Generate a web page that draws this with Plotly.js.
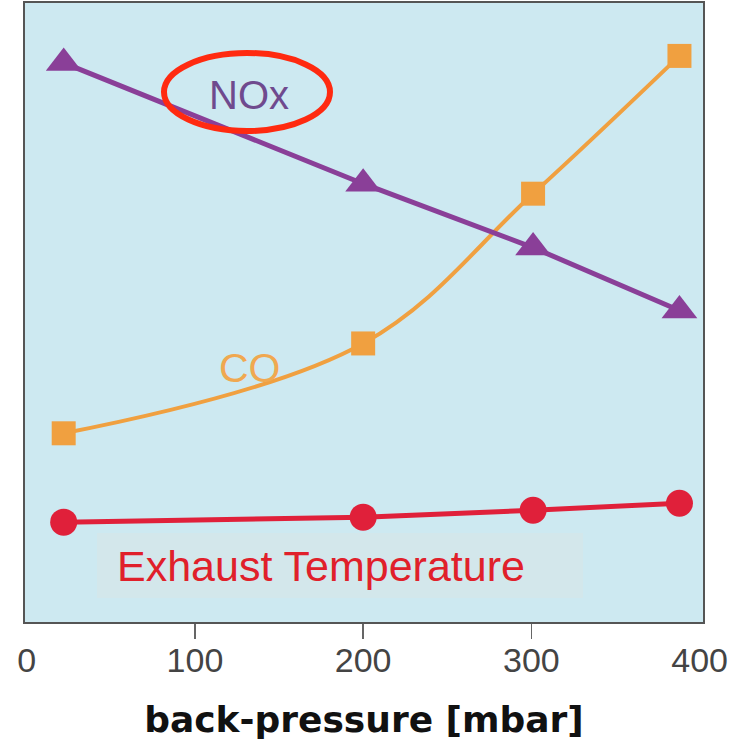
<!DOCTYPE html>
<html><head><meta charset="utf-8">
<script src="https://cdn.plot.ly/plotly-3.0.1.min.js"></script>
<style>html,body{margin:0;padding:0;background:#fff}#chart{width:740px;height:740px}</style>
</head><body><div id="chart"></div>
<script>
const pressure = [22, 200, 301, 388];
const noxValues = [560, 439, 375, 312];
const coValues = [189, 279, 429, 567];
const exhaustValues = [100, 105, 112, 119];
const xTicks = [0, 100, 200, 300, 400];
const xTickLabels = ['0', '100', '200', '300', '400'];
const xTickMarks = [100, 200, 300];

const traces = [
  {x: pressure, y: exhaustValues, mode: 'lines+markers', name: 'Exhaust Temperature',
   line: {color: '#e0203a', width: 5}, marker: {symbol: 'circle', size: 27, color: '#e0203a'}},
  {x: pressure, y: coValues, mode: 'lines+markers', name: 'CO',
   line: {color: '#f0a040', width: 4, shape: 'spline', smoothing: 1.05}, marker: {symbol: 'square', size: 24, color: '#f0a040'}},
  {x: pressure, y: noxValues, mode: 'lines+markers', name: 'NOx',
   line: {color: '#8a3f98', width: 5}, marker: {symbol: 'triangle-up', size: 31, color: '#8a3f98'}}
];

const px = v => (v - 25) / 678;
const py = v => (622 - v) / 619;
const lab = {family: 'Liberation Sans, Arial, sans-serif'};

const layout = {
  width: 740, height: 740,
  margin: {l: 25, r: 37, t: 3, b: 118},
  paper_bgcolor: '#ffffff', plot_bgcolor: '#cde9f1',
  showlegend: false,
  xaxis: {range: [-1, 402], tickvals: xTicks, ticktext: xTickLabels, ticks: '', ticklabelstandoff: 7,
          minor: {tickvals: xTickMarks, ticks: 'outside', ticklen: 15, tickwidth: 1.5, tickcolor: '#666', showgrid: false},
          showgrid: false, zeroline: false, showline: true, mirror: true, linecolor: '#555', linewidth: 2,
          tickfont: {family: lab.family, size: 34, color: '#444'},
          title: {text: 'back-pressure [mbar]', font: {family: 'DejaVu Sans, sans-serif', size: 36, color: '#111', weight: 'bold'}, standoff: 29}},
  yaxis: {range: [0, 620], showticklabels: false, ticks: '', showgrid: false, zeroline: false, showline: true, mirror: true, linecolor: '#555', linewidth: 2},
  shapes: [
    {type: 'rect', xref: 'paper', yref: 'paper', x0: px(97), x1: px(583), y0: py(598), y1: py(533),
     fillcolor: '#d3e7eb', line: {width: 0}, layer: 'below'},
    {type: 'circle', xref: 'paper', yref: 'paper', x0: px(164), x1: px(330), y0: py(131), y1: py(53),
     line: {color: '#ff2a10', width: 6}}
  ],
  annotations: [
    {xref: 'paper', yref: 'paper', x: px(249), y: py(95), xanchor: 'center', yanchor: 'middle', text: 'NOx', showarrow: false,
     font: {family: lab.family, size: 40, color: '#6f4a8e'}},
    {xref: 'paper', yref: 'paper', x: px(250), y: py(368), xanchor: 'center', yanchor: 'middle', text: 'CO', showarrow: false,
     font: {family: lab.family, size: 41, color: '#f0a850'}},
    {xref: 'paper', yref: 'paper', x: px(321), y: py(566), xanchor: 'center', yanchor: 'middle', text: 'Exhaust Temperature', showarrow: false,
     font: {family: lab.family, size: 43, color: '#e0202a'}}
  ]
};

Plotly.newPlot('chart', traces, layout, {displayModeBar: false, staticPlot: true});
</script></body></html>
